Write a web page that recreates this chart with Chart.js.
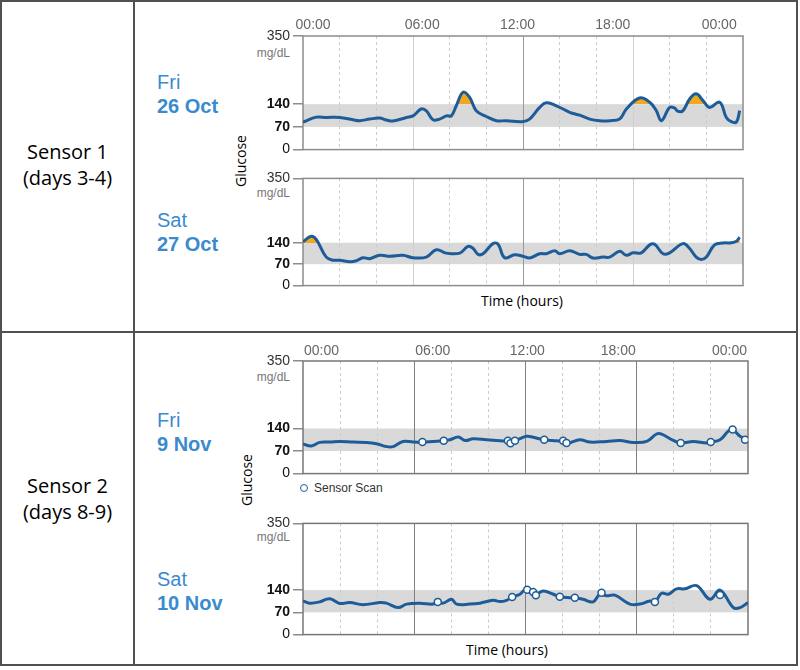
<!DOCTYPE html>
<html>
<head>
<meta charset="utf-8">
<script src="https://cdn.jsdelivr.net/npm/chart.js@4.4.1/dist/chart.umd.min.js"></script>
<style>
  html, body { margin: 0; padding: 0; background: #fff; }
  body { width: 800px; height: 670px; position: relative; overflow: hidden; font-family: "Liberation Sans", Arial, sans-serif; }
  .box { position: absolute; left: 0; top: 0; width: 794px; height: 662px; border: 2px solid #505050; }
  .vline { position: absolute; left: 133px; top: 0; width: 2px; height: 666px; background: #505050; }
  .hline { position: absolute; left: 0; top: 331px; width: 798px; height: 2px; background: #505050; }
  .sensor { position: absolute; left: 2px; width: 131px; text-align: center; font-family: "Open Sans", sans-serif; font-size: 20px; line-height: 26px; color: #000; }
  .day { position: absolute; left: 157px; color: #3a8bcd; font-size: 20px; line-height: 24px; }
  .day b { display: block; }
  canvas { position: absolute; }
  .unit { position: absolute; left: 240px; width: 50px; text-align: right; font-size: 12px; line-height: 14px; color: #777; }
  .glucose { position: absolute; width: 80px; text-align: center; transform: rotate(-90deg); font-family: "Open Sans", sans-serif; font-size: 14px; line-height: 16px; color: #000; }
  .xtitle { position: absolute; width: 200px; text-align: center; font-family: "Open Sans", sans-serif; font-size: 14px; line-height: 20px; color: #000; }
  .legend { position: absolute; left: 300px; top: 481px; font-size: 12px; line-height: 14px; color: #333; }
  .legend i { display: inline-block; width: 6px; height: 6px; border: 1.5px solid #1d5c99; border-radius: 50%; margin-right: 6px; vertical-align: 0px; }
</style>
</head>
<body>
<div class="box"></div>
<div class="vline"></div>
<div class="hline"></div>

<div class="sensor" style="top:139px">Sensor 1<br>(days 3-4)</div>
<div class="sensor" style="top:473px">Sensor 2<br>(days 8-9)</div>

<div class="day" style="top:70px">Fri<b>26 Oct</b></div>
<div class="day" style="top:208px">Sat<b>27 Oct</b></div>
<div class="day" style="top:408px">Fri<b>9 Nov</b></div>
<div class="day" style="top:567px">Sat<b>10 Nov</b></div>

<div class="glucose" style="left:201px; top:153px">Glucose</div>
<div class="glucose" style="left:207px; top:472px">Glucose</div>

<div class="unit" style="top:46px">mg/dL</div>
<div class="unit" style="top:186px">mg/dL</div>
<div class="unit" style="top:370px">mg/dL</div>
<div class="unit" style="top:530px">mg/dL</div>

<div class="xtitle" style="left:422px; top:291px">Time (hours)</div>
<div class="xtitle" style="left:407px; top:640px">Time (hours)</div>

<div class="legend"><i></i>Sensor Scan</div>

<canvas id="oct26" width="515" height="157" style="left:240px; top:4px"></canvas>
<canvas id="oct27" width="515" height="130" style="left:240px; top:167px"></canvas>
<canvas id="nov9" width="520" height="156" style="left:240px; top:329px"></canvas>
<canvas id="nov10" width="520" height="134" style="left:240px; top:512px"></canvas>

<script>
// axis labels and ticks
const hourLabels = ["00:00", "06:00", "12:00", "18:00", "00:00"];
const hourLabelPos1 = [0.55, 6.5, 11.7, 16.9, 22.7];
const hourLabelPos2 = [1.0, 7.0, 12.1, 17.0, 23.0];
const gridHours = [0, 2, 4, 6, 8, 10, 12, 14, 16, 18, 20, 22, 24];
const yTicks = [0, 70, 140, 350];
const targetLow = 70;
const targetHigh = 140;

// Fri 26 Oct
const oct26Hours = [0, 0.73, 1.27, 2.0, 2.73, 3.09, 3.64, 4.18, 4.55, 4.91, 5.64, 6.0, 6.45, 6.73, 7.09, 7.45, 7.82, 8.09, 8.36, 8.73,
  9.09, 9.45, 10.0, 10.55, 11.09, 11.96, 12.36, 12.91, 13.27, 13.82, 14.55, 15.09, 15.64, 16.18, 16.73, 17.27, 17.64, 18.36, 18.91, 19.27,
  19.55, 20.0, 20.27, 20.45, 20.73, 21.09, 21.45, 21.82, 22.18, 22.73, 23.09, 23.36, 23.64, 23.82];
const oct26Glucose = [85, 100, 99, 99, 92, 89, 94, 97, 91, 88, 99, 104, 125, 119, 92, 94, 104, 104, 135, 177,
  161, 120, 102, 89, 89, 86, 94, 130, 144, 135, 115, 106, 94, 89, 89, 94, 125, 159, 146, 120,
  89, 130, 128, 118, 120, 156, 172, 151, 130, 146, 99, 86, 85, 120];

// Sat 27 Oct
const oct27Hours = [0, 0.45, 0.73, 1.27, 1.64, 2.0, 2.55, 2.91, 3.27, 3.64, 4.18, 4.73, 5.45, 6.0, 6.73, 7.27, 7.82, 8.55, 9.0, 9.27,
  9.55, 9.82, 10.36, 10.64, 11.0, 11.55, 12.0, 12.36, 12.91, 13.27, 13.73, 14.0, 14.55, 15.09, 15.45, 15.82, 16.36, 16.73, 17.27, 17.64,
  18.0, 18.45, 18.91, 19.18, 19.64, 20.0, 20.73, 21.09, 21.45, 21.73, 22.0, 22.45, 22.91, 23.36, 23.64, 23.82];
const oct27Glucose = [143, 161, 150, 93, 83, 83, 78, 81, 91, 88, 99, 96, 99, 91, 93, 117, 106, 106, 128, 122,
  102, 104, 137, 135, 91, 101, 96, 90, 104, 104, 114, 104, 114, 102, 102, 90, 93, 93, 112, 99,
  107, 107, 133, 135, 104, 107, 137, 121, 93, 85, 93, 133, 139, 140, 145, 158];

// Fri 9 Nov
const nov9Hours = [0, 0.45, 0.9, 1.44, 1.98, 2.7, 3.42, 3.96, 4.5, 4.86, 5.4, 5.94, 6.44, 7.02, 7.59, 7.92, 8.37, 8.73, 9.18, 9.9,
  10.62, 11.16, 11.43, 12.05, 12.41, 13.01, 13.67, 14.03, 14.3, 14.93, 15.47, 16.37, 17.09, 17.81, 18.53, 19.07, 19.34, 19.97, 20.37, 21.05,
  21.77, 21.99, 22.49, 22.94, 23.17, 23.57, 24.0];
const nov9Glucose = [92, 86, 97, 98, 100, 98, 97, 93, 84, 84, 100, 98, 98, 100, 102, 105, 114, 103, 108, 105,
  102, 100, 102, 116, 113, 105, 102, 100, 95, 105, 98, 100, 103, 97, 100, 123, 123, 103, 95, 100,
  95, 98, 105, 132, 137, 116, 104];
const nov9ScanHours = [6.44, 7.59, 11.05, 11.19, 11.43, 13.01, 14.03, 14.21, 20.37, 21.99, 23.17, 23.84];
const nov9ScanGlucose = [98, 102, 102, 94, 102, 105, 102, 95, 95, 98, 137, 105];

// Sat 10 Nov
const nov10Hours = [0, 0.36, 0.9, 1.44, 1.98, 2.52, 3.24, 4.14, 4.5, 5.13, 5.58, 6.3, 7.02, 7.27, 7.56, 8.01, 8.28, 9.0, 9.54, 10.26,
  10.62, 10.98, 11.28, 11.7, 11.97, 12.5, 12.96, 13.5, 13.85, 14.39, 14.66, 15.11, 15.65, 16.01, 16.37, 16.82, 17.63, 18.17, 18.71, 18.98,
  19.34, 19.7, 20.15, 20.6, 21.23, 21.95, 22.49, 23.21, 23.57, 24.0];
const nov10Glucose = [106, 99, 103, 113, 98, 101, 94, 101, 99, 85, 96, 99, 96, 103, 99, 111, 96, 96, 99, 108,
  104, 108, 118, 127, 140, 126, 137, 127, 119, 116, 116, 111, 103, 127, 122, 124, 96, 96, 106, 103,
  130, 127, 144, 144, 154, 111, 140, 85, 85, 101];
const nov10ScanHours = [7.27, 11.28, 12.09, 12.41, 12.56, 13.85, 14.66, 16.10, 18.98, 22.49];
const nov10ScanGlucose = [103, 118, 141, 134, 124, 119, 116, 132, 103, 125];

Chart.defaults.font.family = "'Liberation Sans', Arial, sans-serif";

const LINE_BLUE = "#1d5c99";

// grey target range behind the grid, plus the box round the plot
const targetBand = {
  id: "targetBand",
  beforeDraw(chart) {
    const { ctx, chartArea: a, scales } = chart;
    const top = scales.y.getPixelForValue(targetHigh);
    const bottom = scales.y.getPixelForValue(targetLow);
    ctx.save();
    ctx.fillStyle = "#d9d9d9";
    ctx.fillRect(a.left, top, a.right - a.left, bottom - top);
    ctx.restore();
  },
  beforeDatasetsDraw(chart, args, opts) {
    const { ctx, chartArea: a } = chart;
    ctx.save();
    ctx.strokeStyle = opts.frame || "#8c8c8c";
    ctx.lineWidth = 1.5;
    ctx.strokeRect(a.left, a.top, a.right - a.left, a.bottom - a.top);
    ctx.restore();
  },
  // orange where the curve rises above the target range
  beforeDatasetDraw(chart, args, opts) {
    const ds = chart.data.datasets[args.index];
    if (!opts.high || !ds.highlight) return;
    const { ctx, chartArea: a } = chart;
    const line = args.meta.dataset;
    const pts = line.points;
    const y = Math.round(chart.scales.y.getPixelForValue(targetHigh));
    ctx.save();
    ctx.beginPath();
    ctx.rect(a.left, a.top, a.right - a.left, y - a.top);
    ctx.clip();
    ctx.beginPath();
    line.path(ctx);
    ctx.lineTo(pts[pts.length - 1].x, y);
    ctx.lineTo(pts[0].x, y);
    ctx.closePath();
    ctx.fillStyle = opts.high;
    ctx.fill();
    ctx.restore();
  },
};

function toPoints(xs, ys) {
  return xs.map((h, i) => ({ x: h, y: ys[i] }));
}

function panel(id, p) {
  const datasets = [];
  if (p.scanHours) {
    datasets.push({
      data: toPoints(p.scanHours, p.scanGlucose),
      showLine: false,
      pointRadius: 3.5,
      pointBackgroundColor: "#fff",
      pointBorderColor: LINE_BLUE,
      pointBorderWidth: 1.5,
      order: 0,
    });
  }
  datasets.push({
    data: toPoints(p.hours, p.glucose),
    borderColor: LINE_BLUE,
    borderWidth: 3,
    pointRadius: 0,
    tension: 0.4,
    order: 1,
    fill: false,
    highlight: true,
  });

  const scales = {
    x: {
      type: "linear",
      min: 0,
      max: 24,
      position: "bottom",
      afterBuildTicks: (s) => { s.ticks = gridHours.map((v) => ({ value: v })); },
      ticks: { display: false },
      grid: {
        drawTicks: false,
        lineWidth: 1,
        color: (c) => {
          const v = c.tick ? c.tick.value : -1;
          if (v === 0 || v === 24) return "rgba(0,0,0,0)";
          if (v === 12) return p.noonColor;
          if (v === 6 || v === 18) return p.quarterColor;
          return "#cccccc";
        },
      },
      border: {
        display: false,
        dash: (c) => (c.tick && c.tick.value % 6 === 0 ? [] : [3, 3]),
      },
      afterFit: (s) => { s.height = 0; },
    },
    y: {
      min: 0,
      max: 350,
      afterBuildTicks: (s) => { s.ticks = yTicks.map((v) => ({ value: v })); },
      ticks: {
        padding: 3,
        color: (c) => (c.tick && c.tick.value === 350 ? "#333" : "#111"),
        font: (c) => ({
          size: 14,
          weight: c.tick && (c.tick.value === 70 || c.tick.value === 140) ? "bold" : "normal",
        }),
      },
      grid: { drawOnChartArea: false, tickLength: 10, color: "#8c8c8c", lineWidth: 1.5 },
      border: { display: false },
      afterFit: (s) => { s.width = 63; },
    },
  };
  if (p.topLabels) {
    scales.xTop = {
      type: "linear",
      axis: "x",
      position: "top",
      min: 0,
      max: 24,
      afterBuildTicks: (s) => { s.ticks = p.topLabels.map((v) => ({ value: v })); },
      ticks: {
        autoSkip: false,
        maxRotation: 0,
        padding: p.topPad,
        color: "#666",
        font: { size: 14 },
        callback: (v, i) => hourLabels[i],
      },
      grid: { display: false, drawTicks: false },
      border: { display: false },
      afterFit: (s) => { s.height = p.topHeight; },
    };
  }

  return new Chart(document.getElementById(id), {
    type: "line",
    data: { datasets },
    options: {
      responsive: false,
      animation: false,
      events: [],
      layout: { padding: { left: 0, right: p.padRight, top: p.topLabels ? 0 : 10, bottom: 10 } },
      plugins: {
        legend: { display: false },
        tooltip: { enabled: false },
        targetBand: { frame: p.frame, high: p.highFill ? "#f2a81d" : null },
      },
      scales,
    },
    plugins: [targetBand],
  });
}

panel("oct26", {
  hours: oct26Hours, glucose: oct26Glucose, highFill: true,
  topLabels: hourLabelPos1, topHeight: 32, topPad: 2, padRight: 12,
  noonColor: "#9a9a9a", quarterColor: "#cfcfcf", frame: "#8c8c8c",
});
panel("oct27", {
  hours: oct27Hours, glucose: oct27Glucose, highFill: true, padRight: 12,
  noonColor: "#9a9a9a", quarterColor: "#cfcfcf", frame: "#8c8c8c",
});
panel("nov9", {
  hours: nov9Hours, glucose: nov9Glucose, scanHours: nov9ScanHours, scanGlucose: nov9ScanGlucose,
  topLabels: hourLabelPos2, topHeight: 32, topPad: 1, padRight: 12,
  noonColor: "#808080", quarterColor: "#808080", frame: "#777",
});
panel("nov10", {
  hours: nov10Hours, glucose: nov10Glucose, scanHours: nov10ScanHours, scanGlucose: nov10ScanGlucose,
  padRight: 12,
  noonColor: "#808080", quarterColor: "#808080", frame: "#777",
});
</script>
</body>
</html>
